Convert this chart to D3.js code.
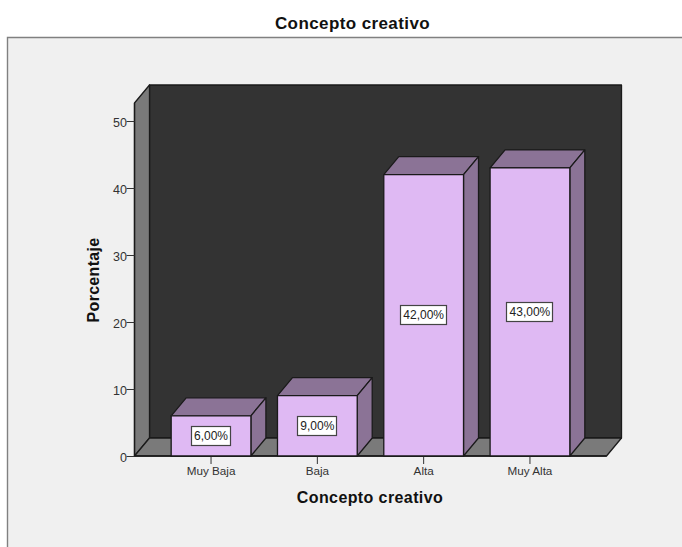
<!DOCTYPE html>
<html><head><meta charset="utf-8">
<script src="https://cdn.jsdelivr.net/npm/d3@7"></script>
<style>html,body{margin:0;padding:0;background:#fff}svg{display:block}text{font-family:"Liberation Sans",Arial,sans-serif}</style>
</head><body><svg id="c" width="682" height="547"></svg>
<script>
const categories=["Muy Baja","Baja","Alta","Muy Alta"];
const values=[6,9,42,43];
const valueLabels=["6,00%","9,00%","42,00%","43,00%"];
const yTicks=[0,10,20,30,40,50];
const title="Concepto creativo", xTitle="Concepto creativo", yTitle="Porcentaje";

const svg=d3.select("#c");
const left=134.5,right=606.5,base=456,top50=121,topFront=103,dx=15,dy=18;
const y=d3.scaleLinear().domain([0,50]).range([base,top50]);
const x=d3.scaleBand().domain(categories).range([left,right]).paddingInner(0.25).paddingOuter(0.345);
const stroke="#1a1a1a";
const poly=(pts,fill,sw=1.3)=>svg.append("path").attr("d","M"+pts.map(p=>p.join(",")).join("L")+"Z").attr("fill",fill).attr("stroke",stroke).attr("stroke-width",sw).attr("stroke-linejoin","round");

// panel: border only on the top and left, running off the right and bottom edges
svg.append("rect").attr("x",8).attr("y",38).attr("width",674).attr("height",509).attr("fill","#f0f0f0");
svg.append("path").attr("d","M7.5,547V37.5H682").attr("fill","none").attr("stroke","#808080").attr("stroke-width",1.4);
svg.append("text").attr("x",352.5).attr("y",29).attr("text-anchor","middle").attr("font-size",17).attr("font-weight",700).attr("letter-spacing",.4).attr("fill","#111").text(title);

poly([[left+dx,topFront-dy],[right+dx,topFront-dy],[right+dx,base-dy],[left+dx,base-dy]],"#333333");
poly([[left,topFront],[left+dx,topFront-dy],[left+dx,base-dy],[left,base]],"#7a7a7a");
poly([[left,base],[left+dx,base-dy],[right+dx,base-dy],[right,base]],"#7a7a7a");

const axisY=svg.append("g").attr("transform",`translate(${left},0)`).call(d3.axisLeft(y).tickValues(yTicks).tickSize(8).tickFormat(d3.format("d")));
axisY.select(".domain").attr("stroke",stroke).attr("stroke-width",1.3).attr("d",`M0,${topFront}V${base}`);
axisY.selectAll("line").attr("stroke","#333");
axisY.selectAll("text").attr("x",-7.5).attr("dy","0.46em").attr("font-size",12.5).attr("font-family","Liberation Sans").attr("fill","#333");

const axisX=svg.append("g").attr("transform",`translate(0,${base})`).call(d3.axisBottom(x).tickSize(8).tickPadding(3));
axisX.select(".domain").attr("stroke",stroke).attr("stroke-width",1.3).attr("d",`M${left},0H${right}`);
axisX.selectAll("line").attr("stroke","#333");
axisX.selectAll("text").attr("font-size",11.7).attr("font-family","Liberation Sans").attr("fill","#333");

categories.forEach((c,i)=>{
  const v=values[i],x0=x(c),x1=x0+x.bandwidth(),t=y(v);
  poly([[x0,t],[x0+dx,t-dy],[x1+dx,t-dy],[x1,t]],"#8b7396");
  poly([[x1,t],[x1+dx,t-dy],[x1+dx,base-dy],[x1,base]],"#8b7396");
  poly([[x0,t],[x1,t],[x1,base],[x0,base]],"#dfb9f3");
  const cx=(x0+x1)/2,cy=y(v/2);
  const w=valueLabels[i].length>5?47:40;
  svg.append("rect").attr("x",Math.round(cx-w/2)+.5).attr("y",Math.round(cy-10)+.5).attr("width",w-1).attr("height",19).attr("fill","#fff").attr("stroke","#444").attr("stroke-width",1.2);
  svg.append("text").attr("x",cx).attr("y",cy+4).attr("text-anchor","middle").attr("font-size",12).attr("fill","#222").text(valueLabels[i]);
});

svg.append("text").attr("transform","translate(98.5,280) rotate(-90)").attr("text-anchor","middle").attr("font-size",16).attr("font-weight",700).attr("letter-spacing",.3).attr("fill","#111").text(yTitle);
svg.append("text").attr("x",370).attr("y",503).attr("text-anchor","middle").attr("font-size",16).attr("font-weight",700).attr("letter-spacing",.4).attr("fill","#111").text(xTitle);
</script></body></html>
